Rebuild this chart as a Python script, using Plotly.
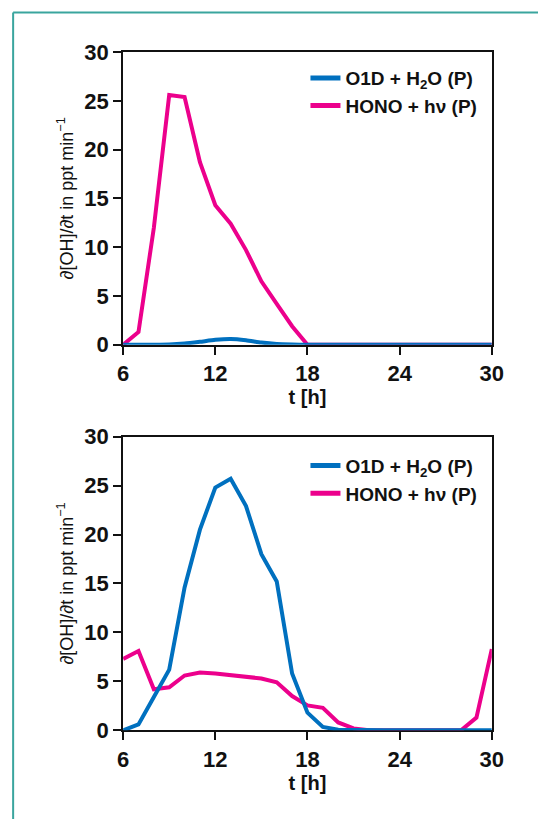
import plotly.graph_objects as go

# ---- data ----
hours = [6, 7, 8, 9, 10, 11, 12, 13, 14, 15, 16, 17, 18, 19, 20, 21, 22, 23, 24,
         25, 26, 27, 28, 29, 30]

# top panel
top_o1d = [0, 0, 0, 0.02, 0.12, 0.3, 0.5, 0.58, 0.45, 0.22, 0.07, 0.02, 0, 0, 0, 0,
           0, 0, 0, 0, 0, 0, 0, 0, 0]
top_hono = [0, 1.3, 12.0, 25.6, 25.4, 18.7, 14.3, 12.4, 9.7, 6.5, 4.2, 1.9, 0, 0, 0,
            0, 0, 0, 0, 0, 0, 0, 0, 0, 0]

# bottom panel
bot_o1d = [0, 0.6, 3.4, 6.2, 14.6, 20.5, 24.8, 25.7, 22.9, 18.0, 15.2, 5.8, 1.8,
           0.35, 0.05, 0, 0, 0, 0, 0, 0, 0, 0, 0, 0]
bot_hono = [7.3, 8.1, 4.2, 4.4, 5.6, 5.9, 5.8, 5.6, 5.5, 5.3, 4.9, 3.5, 2.55, 2.3,
            0.8, 0.2, 0, 0, 0, 0, 0, 0, 0, 1.3, 8.3]

x_ticks = [6, 12, 18, 24, 30]
y_ticks = [0, 5, 10, 15, 20, 25, 30]

name_o1d = "O1D + H<sub>2</sub>O (P)"
name_hono = "HONO + hν (P)"
y_title = "∂[OH]/∂t in ppt min<sup>−1</sup>"
x_title = "t [h]"

BLUE = "#0070BF"
PINK = "#EC008C"
TEAL = "#3AA59E"
FONT = "Liberation Sans, Arial, sans-serif"

# figure size and a picture->figure conversion measured from earlier renders
W, H = 552, 832
AX, SX, AY, SY = 6.4, 0.963, 11.9, 0.971


def px(xp):
    return (xp - AX) / SX / W


def py(yp):
    return 1 - (yp - AY) / SY / H


fig = go.Figure()

panels = [
    (top_o1d, top_hono, "x", "y", "legend", "spline"),
    (bot_o1d, bot_hono, "x2", "y2", "legend2", "linear"),
]
for o1d, hono, xa, ya, lg, shape in panels:
    fig.add_trace(go.Scatter(x=hours, y=hono, mode="lines", name=name_hono,
                             line=dict(color=PINK, width=4), xaxis=xa, yaxis=ya,
                             legend=lg, cliponaxis=False))
    fig.add_trace(go.Scatter(x=hours, y=o1d, mode="lines", name=name_o1d,
                             line=dict(color=BLUE, width=4, shape=shape,
                                       smoothing=0.6),
                             xaxis=xa, yaxis=ya, legend=lg, cliponaxis=False))

xdom = [px(123), px(490)]
ydom_top = [py(345), py(52)]
ydom_bot = [py(731), py(437)]

tickfont = dict(family=FONT, size=22, color="#111", weight="bold")


def xaxis(anchor):
    return dict(domain=xdom, range=[6, 30], tickvals=x_ticks, ticks="outside",
                ticklen=8, tickwidth=2, tickcolor="#111", showline=True,
                linewidth=2, linecolor="#111", mirror=True, showgrid=False,
                zeroline=False, tickfont=tickfont, anchor=anchor,
                layer="below traces",
                title=dict(text=x_title, font=dict(family=FONT, size=20,
                                                   color="#111", weight="bold"),
                           standoff=4))


def yaxis(dom, anchor):
    return dict(domain=dom, range=[0, 30], tickvals=y_ticks, ticks="outside",
                ticklen=8, tickwidth=2, tickcolor="#111", showline=True,
                linewidth=2, linecolor="#111", mirror=True, showgrid=False,
                zeroline=False, tickfont=tickfont, anchor=anchor,
                layer="below traces",
                title=dict(text=y_title, font=dict(family=FONT, size=18,
                                                   color="#111"),
                           standoff=6))


legend_common = dict(font=dict(family=FONT, size=19, color="#111", weight="bold"),
                     bgcolor="rgba(0,0,0,0)", traceorder="reversed",
                     xanchor="left", yanchor="top", itemsizing="constant")

fig.update_layout(
    width=W, height=H,
    margin=dict(l=0, r=0, t=0, b=0),
    paper_bgcolor="white", plot_bgcolor="white",
    showlegend=True,
    xaxis=xaxis("y"),
    yaxis=yaxis(ydom_top, "x"),
    xaxis2=xaxis("y2"),
    yaxis2=yaxis(ydom_bot, "x2"),
    legend=dict(x=px(304.5), y=py(59), **legend_common),
    legend2=dict(x=px(304.5), y=py(447), **legend_common),
    shapes=[
        dict(type="line", xref="paper", yref="paper", x0=px(13.5), x1=px(13.5),
             y0=0, y1=1 - 0.5 / H, line=dict(color=TEAL, width=2)),
        dict(type="line", xref="paper", yref="paper", x0=px(13.5), x1=1,
             y0=1 - 0.5 / H, y1=1 - 0.5 / H, line=dict(color=TEAL, width=2)),
    ],
)

fig.write_html("out.html")
